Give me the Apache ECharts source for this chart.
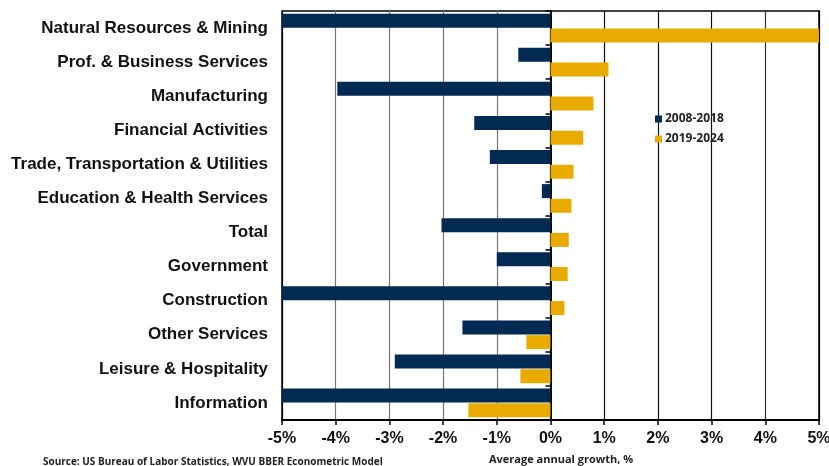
<!DOCTYPE html>
<html>
<head>
<meta charset="utf-8">
<script src="https://cdn.jsdelivr.net/npm/echarts@6/dist/echarts.min.js"></script>
<style>
  html, body { margin: 0; padding: 0; background: #fff; }
  #main { width: 829px; height: 466px; }
</style>
</head>
<body>
<div id="main"></div>
<script>
// categories, top to bottom
var categories = [
    'Natural Resources & Mining',
    'Prof. & Business Services',
    'Manufacturing',
    'Financial Activities',
    'Trade, Transportation & Utilities',
    'Education & Health Services',
    'Total',
    'Government',
    'Construction',
    'Other Services',
    'Leisure & Hospitality',
    'Information'
];

// average annual growth, %
var growth2008 = [-5.0, -0.6, -3.97, -1.42, -1.13, -0.16, -2.03, -1.0, -5.0, -1.64, -2.9, -5.0];
var growth2019 = [5.0, 1.08, 0.8, 0.61, 0.43, 0.39, 0.34, 0.32, 0.26, -0.45, -0.56, -1.53];

var navy = '#022a52';
var gold = '#eaab00';

var myChart = echarts.init(document.getElementById('main'));

var option = {
    animation: false,
    textStyle: { fontFamily: 'Liberation Sans, Arial, sans-serif' },
    title: [
        {
            text: 'Source: US Bureau of Labor Statistics, WVU BBER Econometric Model',
            left: 43,
            top: 457,
            padding: 0,
            textStyle: { fontSize: 10, fontWeight: 'bold', color: '#222', fontFamily: 'Open Sans, sans-serif' }
        },
        {
            text: 'Average annual growth, %',
            left: 489,
            top: 454,
            padding: 0,
            textStyle: { fontSize: 11, fontWeight: 'bold', color: '#222', fontFamily: 'Open Sans, sans-serif' }
        }
    ],
    legend: {
        orient: 'vertical',
        left: 650,
        top: 108,
        itemWidth: 7,
        itemHeight: 7,
        itemGap: 8,
        icon: 'rect',
        textStyle: { fontSize: 12, fontWeight: 'bold', color: '#222', fontFamily: 'Open Sans, sans-serif', padding: [0, 0, 0, -2] },
        data: ['2008-2018', '2019-2024']
    },
    grid: {
        left: 282,
        right: 10,
        top: 11,
        bottom: 46,
        outerBoundsMode: 'none',
        show: true,
        borderColor: '#000',
        borderWidth: 1.5
    },
    xAxis: {
        type: 'value',
        min: -5,
        max: 5,
        interval: 1,
        axisLine: { show: true, onZero: false, lineStyle: { color: '#000', width: 2 } },
        axisTick: { show: true, length: 5, lineStyle: { color: '#000', width: 1.5 } },
        axisLabel: {
            margin: 11,
            fontSize: 16,
            fontWeight: 'bold',
            color: '#111',
            formatter: function (v) { return v + '%'; }
        },
        splitLine: {
            show: true,
            lineStyle: {
                width: 1.2,
                color: ['#000', '#777', '#777', '#777', '#777', '#000', '#111', '#111', '#111', '#333', '#000']
            }
        }
    },
    yAxis: [
        {
            type: 'category',
            data: categories,
            inverse: true,
            axisLine: { show: false, onZero: false },
            axisTick: { show: false },
            axisLabel: {
                margin: 14,
                fontSize: 17,
                fontWeight: 'bold',
                color: '#111'
            }
        },
        {
            type: 'category',
            data: categories,
            inverse: true,
            position: 'left',
            axisLine: { show: true, onZero: true, onZeroAxisIndex: 0, lineStyle: { color: '#000', width: 2 } },
            axisTick: { show: true, length: 5, lineStyle: { color: '#000', width: 1.5 } },
            axisLabel: { show: false }
        }
    ],
    series: [
        {
            name: '2008-2018',
            type: 'bar',
            yAxisIndex: 0,
            barWidth: 14,
            barGap: '5%',
            itemStyle: { color: navy },
            data: growth2008
        },
        {
            name: '2019-2024',
            type: 'bar',
            yAxisIndex: 0,
            barWidth: 14,
            barGap: '5%',
            itemStyle: { color: gold },
            data: growth2019
        }
    ]
};

myChart.setOption(option);
</script>
</body>
</html>
